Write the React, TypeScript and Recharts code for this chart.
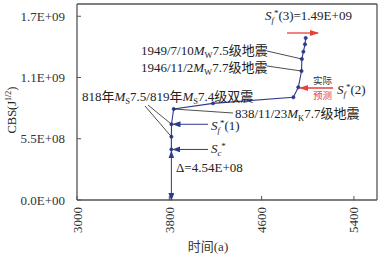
import { LineChart, Line, XAxis, YAxis, ReferenceLine } from 'recharts';

// time axis = year + 3000
const years = [3818, 3818, 3819, 3838, 4179, 4875, 4918, 4946, 4949, 4962, 4976, 4982];
const cbsValues = [4.54e8, 5.68e8, 6.8e8, 8.17e8, 8.68e8, 9.22e8, 1.012e9, 1.158e9, 1.266e9, 1.332e9, 1.398e9, 1.455e9];
const xTicks = [3000, 3800, 4600, 5400];
const yTicks = [0, 5.5e8, 1.1e9, 1.65e9];
const yTickLabels = ['0.0E+00', '5.5E+08', '1.1E+09', '1.7E+09'];

const data = years.map((year, i) => ({ year, cbs: cbsValues[i] }));

const W = 389;
const H = 257;
const LEFT = 77;
const TOP = 4;
const RIGHT = 12;
const BOTTOM = 57;
const X_DOMAIN = [3000, 5600];
const Y_DOMAIN = [0, 1.76e9];

const FONT = "'Liberation Serif', 'Noto Sans CJK SC', serif";
const NAVY = '#2e3a8c';
const RED = '#e5413a';
const AXIS = '#555';

// pixel helpers for the annotation overlay only
const px = (x: number) => LEFT + ((x - X_DOMAIN[0]) / (X_DOMAIN[1] - X_DOMAIN[0])) * (W - LEFT - RIGHT);
const py = (y: number) => TOP + (1 - (y - Y_DOMAIN[0]) / (Y_DOMAIN[1] - Y_DOMAIN[0])) * (H - TOP - BOTTOM);

const XTick = ({ x, y, payload }: any) => (
  <g>
    <line x1={x} y1={y} x2={x} y2={y - 4} stroke={AXIS} />
    <text
      x={x}
      y={y + 7}
      dy="0.35em"
      textAnchor="end"
      transform={`rotate(-90, ${x}, ${y + 7})`}
      fontFamily={FONT}
      fontSize={13}
      fill="#333"
    >
      {payload.value}
    </text>
  </g>
);

const YTick = ({ x, y, payload, index }: any) => (
  <g>
    <line x1={x} y1={y} x2={x + 4} y2={y} stroke={AXIS} />
    <text x={x - 12} y={y} dy="0.35em" textAnchor="end" fontFamily={FONT} fontSize={13} fill="#333">
      {yTickLabels[index] ?? payload.value}
    </text>
  </g>
);

// S_f* style label
const Sym = ({ sub, tail }: { sub: string; tail?: string }) => (
  <>
    <tspan fontStyle="italic">S</tspan>
    <tspan fontStyle="italic" fontSize={8.5} dy={3}>{sub}</tspan>
    <tspan fontSize={9} dy={-7}>*</tspan>
    {tail && <tspan dy={4}>{tail}</tspan>}
  </>
);

// M_S style magnitude followed by text on the baseline
const Mag = ({ sub, after }: { sub: string; after: string }) => (
  <>
    <tspan fontStyle="italic">M</tspan>
    <tspan fontSize={8.5} dy={3}>{sub}</tspan>
    <tspan dy={-3}>{after}</tspan>
  </>
);

const Annotations = () => {
  const x818 = px(3818);
  return (
    <svg width={W} height={H} style={{ position: 'absolute', left: 0, top: 0, pointerEvents: 'none' }}>
      <defs>
        <marker id="navyHead" markerWidth="8" markerHeight="6" refX="7" refY="3" orient="auto" markerUnits="userSpaceOnUse">
          <path d="M0,0 L8,3 L0,6 z" fill={NAVY} />
        </marker>
        <marker id="navyTail" markerWidth="8" markerHeight="6" refX="1" refY="3" orient="auto" markerUnits="userSpaceOnUse">
          <path d="M8,0 L0,3 L8,6 z" fill={NAVY} />
        </marker>
        <marker id="redHead" markerWidth="9" markerHeight="6" refX="8" refY="3" orient="auto" markerUnits="userSpaceOnUse">
          <path d="M0,0 L9,3 L0,6 z" fill={RED} />
        </marker>
      </defs>
      <g fontFamily={FONT} fontSize={13} fill="#222">
        {/* axis titles */}
        <text transform="translate(16, 110) rotate(-90)" textAnchor="middle" fontSize={12.5}>
          CBS(J<tspan fontSize={8} dy={-5}>1/2</tspan><tspan dy={5}>)</tspan>
        </text>
        <text x={208} y={251} textAnchor="middle" fontSize={13} fill="#333">时间(a)</text>

        {/* S_f*(3) */}
        <text x={265} y={20}><Sym sub="f" tail="(3)=1.49E+09" /></text>
        <line x1={287} y1={33} x2={318} y2={33} stroke={RED} strokeWidth={1.3} markerEnd="url(#redHead)" />

        {/* 1949 / 1946 */}
        <text x={141} y={55}>1949/7/10<Mag sub="W" after="7.5级地震" /></text>
        <line x1={267} y1={51} x2={px(4949)} y2={py(1.266e9)} stroke="#222" strokeWidth={0.8} />
        <text x={141} y={72}>1946/11/2<Mag sub="W" after="7.7级地震" /></text>
        <line x1={267} y1={66} x2={px(4946)} y2={py(1.158e9)} stroke="#222" strokeWidth={0.8} />

        {/* S_f*(2) */}
        <text x={313} y={84} fontSize={9.5} fill="#333">实际</text>
        <text x={313} y={99} fontSize={9.5} fill={RED}>预测</text>
        <line x1={333} y1={88} x2={px(4918) + 2} y2={88} stroke={RED} strokeWidth={1.3} markerEnd="url(#redHead)" />
        <text x={337} y={94}><Sym sub="f" tail="(2)" /></text>

        {/* 818/819 */}
        <text x={82} y={101}>818年<Mag sub="S" after="7.5/819年" /><Mag sub="S" after="7.4级双震" /></text>
        <line x1={148} y1={105} x2={px(3819)} y2={py(6.8e8)} stroke="#222" strokeWidth={0.8} />
        <line x1={145} y1={106} x2={px(3818)} y2={py(5.68e8)} stroke="#222" strokeWidth={0.8} />

        {/* 838 */}
        <text x={235} y={118}>838/11/23<Mag sub="K" after="7.7级地震" /></text>
        <line x1={px(3838)} y1={py(8.17e8)} x2={233} y2={113} stroke="#222" strokeWidth={0.8} />

        {/* S_f*(1), S_c* */}
        <line x1={208} y1={py(6.8e8)} x2={px(3819) + 2} y2={py(6.8e8)} stroke={NAVY} strokeWidth={1} markerEnd="url(#navyHead)" />
        <text x={211} y={130}><Sym sub="f" tail="(1)" /></text>
        <line x1={208} y1={py(4.54e8)} x2={x818 + 2} y2={py(4.54e8)} stroke={NAVY} strokeWidth={1} markerEnd="url(#navyHead)" />
        <text x={211} y={153}><Sym sub="c" /></text>

        {/* delta */}
        <line x1={x818} y1={py(4.54e8) + 2} x2={x818} y2={py(0)} stroke={NAVY} strokeWidth={1} markerStart="url(#navyTail)" markerEnd="url(#navyHead)" />
        <text x={176} y={172}>Δ=4.54E+08</text>
      </g>
    </svg>
  );
};

export default function App() {
  return (
    <div style={{ position: 'absolute', left: 0, top: 0, width: W, height: H, background: '#fff' }}>
      <LineChart width={W} height={H} data={data} margin={{ top: TOP, right: RIGHT, left: 0, bottom: 0 }}>
        <XAxis
          type="number"
          dataKey="year"
          domain={X_DOMAIN}
          ticks={xTicks}
          interval={0}
          height={BOTTOM}
          tickSize={0}
          tickMargin={0}
          tickLine={false}
          tick={(p: any) => <XTick {...p} />}
          axisLine={{ stroke: AXIS, strokeWidth: 1.3 }}
        />
        <YAxis
          type="number"
          dataKey="cbs"
          domain={Y_DOMAIN}
          ticks={yTicks}
          interval={0}
          width={LEFT}
          tickSize={0}
          tickMargin={0}
          tickLine={false}
          tick={(p: any) => <YTick {...p} />}
          axisLine={{ stroke: AXIS, strokeWidth: 1.3 }}
        />
        <ReferenceLine x={X_DOMAIN[1]} stroke={AXIS} strokeWidth={1.3} />
        <ReferenceLine y={Y_DOMAIN[1]} stroke={AXIS} strokeWidth={1.3} />
        <Line
          type="linear"
          dataKey="cbs"
          stroke={NAVY}
          strokeWidth={1.1}
          dot={{ r: 1.7, fill: NAVY, stroke: NAVY, strokeWidth: 0.5 }}
          isAnimationActive={false}
        />
      </LineChart>
      <Annotations />
    </div>
  );
}
